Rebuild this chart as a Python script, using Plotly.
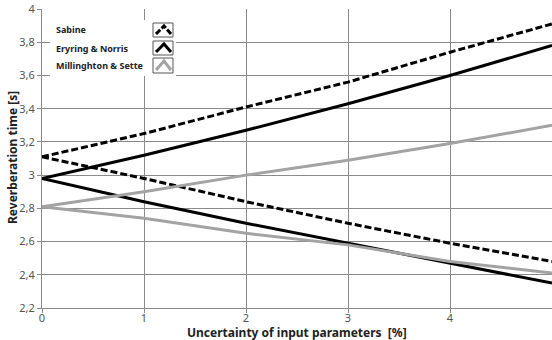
import plotly.graph_objects as go

x_vals = [0, 1, 2, 3, 4, 5]
sabine_upper = [3.11, 3.25, 3.41, 3.56, 3.74, 3.91]
sabine_lower = [3.11, 2.98, 2.84, 2.71, 2.59, 2.48]
eyring_upper = [2.98, 3.12, 3.27, 3.43, 3.60, 3.78]
eyring_lower = [2.98, 2.84, 2.71, 2.59, 2.47, 2.35]
mill_upper = [2.81, 2.90, 3.00, 3.09, 3.19, 3.30]
mill_lower = [2.81, 2.74, 2.65, 2.58, 2.48, 2.41]
legend_names = ["Sabine", "Eryring & Norris", "Millinghton & Sette"]
x_title = "Uncertainty of input parameters  [%]"
y_title = "Reverberation time [s]"

GREY = "#a3a3a3"
fig = go.Figure()
series = [
    (sabine_upper, "black", "7px,3px"),
    (sabine_lower, "black", "7px,3px"),
    (eyring_upper, "black", "solid"),
    (eyring_lower, "black", "solid"),
    (mill_upper, GREY, "solid"),
    (mill_lower, GREY, "solid"),
]
for ys, col, dash in series:
    fig.add_trace(go.Scatter(x=x_vals, y=ys, mode="lines",
                             line=dict(color=col, width=3, dash=dash),
                             showlegend=False, hoverinfo="skip"))

W, H = 552, 340
# plot area in pixels: x 42..552, y 9..308
L, R, T, B = 42, 552, 9, 308
def px(xp):
    return (xp - L) / (R - L)
def py(yp):
    return (B - yp) / (B - T)

shapes = []
annotations = []
# legend background
shapes.append(dict(type="rect", xref="paper", yref="paper",
                   x0=px(50), x1=px(176), y0=py(76), y1=py(20),
                   fillcolor="white", line=dict(width=0), layer="above"))
icon_rows = [(23, 37), (41, 55), (58, 73)]
icon_styles = [("black", "6px,2px"), ("black", "solid"), (GREY, "solid")]
for name, (t, b), (col, dsh) in zip(legend_names, icon_rows, icon_styles):
    cy = (t + b) / 2
    annotations.append(dict(text="<b>" + name + "</b>", xref="paper", yref="paper",
                            x=px(54), y=py(cy), xanchor="left", yanchor="middle",
                            showarrow=False, font=dict(family="Noto Sans", size=9, color="#222")))
    shapes.append(dict(type="rect", xref="paper", yref="paper",
                       x0=px(153), x1=px(173), y0=py(b), y1=py(t),
                       fillcolor="white", line=dict(color="#555", width=1), layer="above"))
    path = "M {},{} L {},{} L {},{}".format(px(156), py(b - 3), px(164), py(t + 3), px(171), py(b - 3))
    shapes.append(dict(type="path", xref="paper", yref="paper", path=path,
                       line=dict(color=col, width=3, dash=dsh), layer="above"))

# axis titles
annotations.append(dict(text="<b>" + x_title + "</b>", xref="paper", yref="paper",
                        x=px(297), y=py(332.5), xanchor="center", yanchor="middle",
                        borderpad=0,
                        showarrow=False, font=dict(family="Noto Sans", size=12, color="#222")))
annotations.append(dict(text="<b>" + y_title + "</b>", xref="paper", yref="paper",
                        x=px(12), y=py(158), xanchor="center", yanchor="middle",
                        textangle=-90, showarrow=False,
                        font=dict(family="Noto Sans", size=12, color="#222")))

fig.update_layout(
    width=W, height=H,
    margin=dict(l=L, r=W - R, t=T, b=H - B, autoexpand=False),
    paper_bgcolor="white", plot_bgcolor="white",
    separators=", ",
    font=dict(family="Noto Sans", size=11, color="#555"),
    shapes=shapes, annotations=annotations,
    showlegend=False,
)
fig.update_xaxes(range=[0, 5], dtick=1, tick0=0, showgrid=True, gridcolor="#8a8a8a",
                 gridwidth=1, showline=True, linecolor="#8a8a8a", ticks="outside",
                 ticklen=4, tickcolor="#8a8a8a", zeroline=False, automargin=False,
                 ticklabelstandoff=-4,
                 tickfont=dict(size=11, color="#555"))
fig.update_yaxes(range=[2.2, 4], dtick=0.2, tick0=2.2, showgrid=True, gridcolor="#8a8a8a",
                 gridwidth=1, showline=True, linecolor="#8a8a8a", ticks="outside",
                 ticklen=4, tickcolor="#8a8a8a", zeroline=False, automargin=False,
                 tickfont=dict(size=11, color="#555"))

fig.write_html("out.html", config={"displayModeBar": False},
               post_script="document.body.style.margin='0';")
